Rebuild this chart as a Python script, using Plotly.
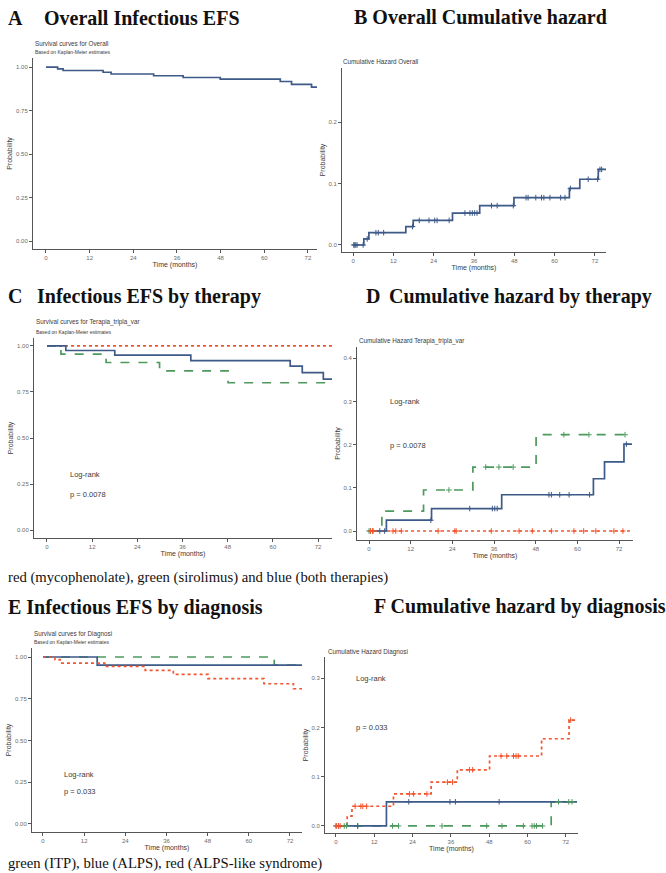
import numpy as np
import plotly.graph_objects as go

W, H = 666, 873

# ---------------- DATA ----------------
x_ticks = [0, 12, 24, 36, 48, 60, 72]

# Overall (A survival, B cumulative hazard)
overall_events = [3.2, 4.7, 15.7, 17.9, 29.6, 37.7, 47.9, 64.4, 67.5, 73.0]
overall_surv = [0.99, 0.98, 0.97, 0.96, 0.95, 0.94, 0.93, 0.917, 0.90, 0.885]
overall_haz = [0.01, 0.02, 0.03, 0.04, 0.052, 0.064, 0.077, 0.092, 0.107, 0.123]
overall_end = 75.3
overall_censor = [0.2, 0.5, 0.8, 1.2, 3.0, 4.2, 6.8, 7.5, 9.1, 17.7, 19.7, 22.6, 24.3, 25.0,
                  28.6, 33.3, 34.8, 35.5, 36.2, 36.9, 41.2, 42.9, 47.7, 51.5, 52.1, 54.4,
                  56.1, 56.8, 58.6, 61.8, 63.1, 64.7, 70.0, 72.8, 73.5, 74.0]

# Therapy (C survival, D cumulative hazard)
ther_red_events = []
ther_red_surv = []
ther_red_haz = []
ther_green_events = [3.7, 15.7, 29.9, 48.1]
ther_green_surv = [0.955, 0.91, 0.865, 0.80]
ther_green_haz = [0.046, 0.095, 0.148, 0.223]
ther_blue_events = [5.0, 18.0, 38.2, 64.6, 67.8, 73.4]
ther_blue_surv = [0.975, 0.95, 0.92, 0.89, 0.855, 0.82]
ther_blue_haz = [0.025, 0.052, 0.084, 0.121, 0.16, 0.201]
ther_end = 75.7
ther_red_censor = [0.4, 1.0, 1.2, 6.9, 7.7, 9.3, 19.9, 24.7, 25.1, 35.2, 43.2, 47.0, 52.5,
                   59.0, 61.8, 65.3, 70.5, 73.1]
ther_green_censor = [0.0, 0.4, 23.0, 33.6, 37.4, 41.5, 56.1, 63.3, 73.7]
ther_blue_censor = [3.1, 4.5, 17.8, 29.0, 35.5, 36.2, 36.9, 51.8, 52.5, 54.9, 57.6, 63.5, 74.1]

# Diagnosis (E survival, F cumulative hazard)
diag_green_events = [67.4]
diag_green_surv = [0.952]
diag_green_haz = [0.049]
diag_blue_events = [15.8]
diag_blue_surv = [0.952]
diag_blue_haz = [0.049]
diag_red_events = [3.5, 5.0, 18.0, 29.8, 38.0, 48.1, 64.4, 73.0]
diag_red_surv = [0.984, 0.964, 0.944, 0.92, 0.896, 0.87, 0.84, 0.81]
diag_red_haz = [0.02, 0.04, 0.065, 0.089, 0.114, 0.142, 0.177, 0.215]
diag_end = 75.5
diag_red_censor = [0.2, 0.8, 1.3, 6.0, 7.8, 8.4, 9.6, 23.0, 24.3, 28.5, 34.9, 36.5, 41.8,
                   42.8, 51.7, 53.5, 55.6, 56.4, 57.1, 73.5]
diag_blue_censor = [0.0, 0.8, 6.8, 22.8, 35.7, 37.4, 51.1]
diag_green_censor = [2.6, 3.3, 6.8, 17.7, 19.6, 33.2, 47.2, 52.0, 58.7, 61.4, 62.1, 62.8,
                     64.7, 69.7, 72.9, 73.9]

# ---------------- STYLE ----------------
BLUE = "#3d5a88"
RED = "#f2552f"
GREEN = "#4d9a5e"
SANS = "Liberation Sans, Arial, sans-serif"
SERIF = "Liberation Serif, Times New Roman, serif"
AX = "#555555"
TICKC = "#6a6a6a"
TXT = "#3a3a3a"


def P(px, py):
    return px / W, 1 - py / H


def curve(events, vals, start, end):
    x = [0.0] + list(events) + [end]
    y = [start] + list(vals) + [vals[-1] if vals else start]
    return x, y


def step_value(events, vals, start, t):
    ev = np.array([0.0] + list(events))
    vv = np.array([start] + list(vals))
    idx = np.searchsorted(ev, np.array(t), side="right") - 1
    return vv[np.clip(idx, 0, None)]


fig = go.Figure()


def add_line(ax, events, vals, start, end, color, dash):
    x, y = curve(events, vals, start, end)
    fig.add_trace(go.Scatter(x=x, y=y, mode="lines", line=dict(color=color, width=1.7, dash=dash, shape="hv"),
                             xaxis="x" + ax, yaxis="y" + ax, showlegend=False, hoverinfo="skip"))


def add_censor(ax, events, vals, start, times, color):
    yv = step_value(events, vals, start, times)
    fig.add_trace(go.Scatter(x=times, y=yv, mode="markers",
                             marker=dict(symbol="cross-thin", size=4, line=dict(color=color, width=1)),
                             xaxis="x" + ax, yaxis="y" + ax, showlegend=False, hoverinfo="skip"))


# A
add_line("", overall_events, overall_surv, 1.0, overall_end, BLUE, "solid")
# B
add_line("2", overall_events, overall_haz, 0.0, overall_end, BLUE, "solid")
add_censor("2", overall_events, overall_haz, 0.0, overall_censor, BLUE)
# C
add_line("3", ther_red_events, ther_red_surv, 1.0, ther_end, RED, "dot")
add_line("3", ther_green_events, ther_green_surv, 1.0, ther_end, GREEN, "dash")
add_line("3", ther_blue_events, ther_blue_surv, 1.0, ther_end, BLUE, "solid")
# D
add_line("4", ther_green_events, ther_green_haz, 0.0, ther_end, GREEN, "dash")
add_line("4", ther_blue_events, ther_blue_haz, 0.0, ther_end, BLUE, "solid")
add_line("4", ther_red_events, ther_red_haz, 0.0, ther_end, RED, "dot")
add_censor("4", ther_green_events, ther_green_haz, 0.0, ther_green_censor, GREEN)
add_censor("4", ther_blue_events, ther_blue_haz, 0.0, ther_blue_censor, BLUE)
add_censor("4", ther_red_events, ther_red_haz, 0.0, ther_red_censor, RED)
# E
add_line("5", diag_green_events, diag_green_surv, 1.0, diag_end, GREEN, "dash")
add_line("5", diag_blue_events, diag_blue_surv, 1.0, diag_end, BLUE, "solid")
add_line("5", diag_red_events, diag_red_surv, 1.0, diag_end, RED, "dot")
# F
add_line("6", diag_green_events, diag_green_haz, 0.0, diag_end, GREEN, "dash")
add_line("6", diag_blue_events, diag_blue_haz, 0.0, diag_end, BLUE, "solid")
add_line("6", diag_red_events, diag_red_haz, 0.0, diag_end, RED, "dot")
add_censor("6", diag_green_events, diag_green_haz, 0.0, diag_green_censor, GREEN)
add_censor("6", diag_blue_events, diag_blue_haz, 0.0, diag_blue_censor, BLUE)
add_censor("6", diag_red_events, diag_red_haz, 0.0, diag_red_censor, RED)

# panel geometry: (L, R, T, B) in pixels, x range, y range, y ticks, y format
panels = {
    "": ((33, 317, 58, 249), [-3.57, 74.5], [-0.046, 1.052], [0, 0.25, 0.5, 0.75, 1.0], ".2f"),
    "2": ((342, 606, 68, 252), [-3.3, 75.3], [-0.0114, 0.288], [0, 0.1, 0.2], ".1f"),
    "3": ((34, 332, 338, 538), [-3.45, 75.7], [-0.043, 1.043], [0, 0.25, 0.5, 0.75, 1.0], ".2f"),
    "4": ((357, 633, 347, 540), [-3.46, 76.0], [-0.0208, 0.426], [0, 0.1, 0.2, 0.3, 0.4], ".1f"),
    "5": ((32, 302, 648, 832), [-3.2, 75.5], [-0.048, 1.054], [0, 0.25, 0.5, 0.75, 1.0], ".2f"),
    "6": ((325, 578, 657, 833), [-3.44, 75.8], [-0.0143, 0.343], [0, 0.1, 0.2, 0.3], ".1f"),
}

layout = dict(width=W, height=H, margin=dict(l=0, r=0, t=0, b=0), paper_bgcolor="white",
              plot_bgcolor="white", showlegend=False)
for k, ((L, R, T, B), xr, yr, yt, yf) in panels.items():
    common = dict(showline=True, linecolor=AX, linewidth=1, ticks="outside", ticklen=3, tickwidth=1,
                  tickcolor=AX, showgrid=False, zeroline=False,
                  tickfont=dict(family=SANS, size=6, color=TICKC))
    layout["xaxis" + k] = dict(common, domain=[L / W, R / W], range=xr, tickvals=x_ticks,
                               anchor="y" + k,
                               title=dict(text="Time (months)", font=dict(family=SANS, size=7, color=TXT),
                                          standoff=1))
    layout["yaxis" + k] = dict(common, domain=[1 - B / H, 1 - T / H], range=yr, tickvals=yt,
                               tickformat=yf, anchor="x" + k,
                               title=dict(text="Probability", font=dict(family=SANS, size=7, color=TXT),
                                          standoff=2))
fig.update_layout(**layout)

ann = []


def text(px, py, s, size, family=SANS, color=TXT, bold=False):
    x, y = P(px, py)
    ann.append(dict(x=x, y=y, xref="paper", yref="paper", text=("<b>%s</b>" % s) if bold else s,
                    showarrow=False, xanchor="left", yanchor="middle",
                    font=dict(family=family, size=size, color=color)))


HS = 20
# headers
text(6, 18, "A", HS, SERIF, "#111", True)
text(42, 18, "Overall Infectious EFS", HS, SERIF, "#111", True)
text(352, 17, "B Overall Cumulative hazard", HS, SERIF, "#111", True)
text(6, 296, "C", HS, SERIF, "#111", True)
text(35, 296, "Infectious EFS by therapy", HS, SERIF, "#111", True)
text(364, 296, "D", HS, SERIF, "#111", True)
text(387, 296, "Cumulative hazard by therapy", HS, SERIF, "#111", True)
text(6, 607, "E Infectious EFS by diagnosis", HS, SERIF, "#111", True)
text(372, 606, "F Cumulative hazard by diagnosis", HS, SERIF, "#111", True)
# captions
text(6, 577, "red (mycophenolate), green (sirolimus) and blue (both therapies)", 14.7, SERIF, "#111")
text(6, 863, "green (ITP), blue (ALPS), red (ALPS-like syndrome)", 14.7, SERIF, "#111")
# small panel titles
text(33, 43, "Survival curves for Overall", 6.3)
text(33, 52, "Based on Kaplan-Meier estimates", 5)
text(341, 62, "Cumulative Hazard Overall", 6.3)
text(34, 322, "Survival curves for Terapia_tripla_var", 6.3)
text(34, 332, "Based on Kaplan-Meier estimates", 5)
text(357, 341, "Cumulative Hazard Terapia_tripla_var", 6.3)
text(32, 634, "Survival curves for Diagnosi", 6.3)
text(32, 642, "Based on Kaplan-Meier estimates", 5)
text(326, 652, "Cumulative Hazard Diagnosi", 6.3)
# log-rank
text(68, 475, "Log-rank", 7.5)
text(68, 494, "p = 0.0078", 7.5)
text(388, 402, "Log-rank", 7.5)
text(388, 446, "p = 0.0078", 7.5)
text(62, 774, "Log-rank", 7.5)
text(62, 791, "p = 0.033", 7.5)
text(354, 678, "Log-rank", 7.5)
text(354, 727, "p = 0.033", 7.5)

fig.update_layout(annotations=ann)
fig.write_html("out.html")
